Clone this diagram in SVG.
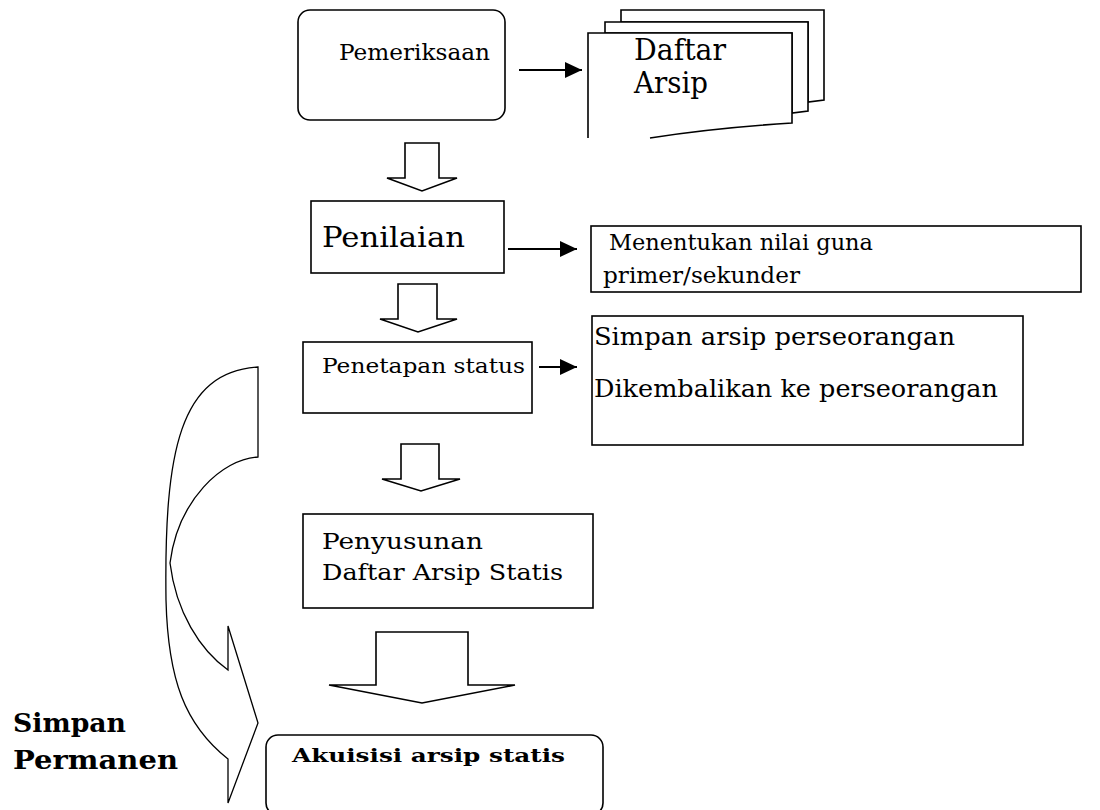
<svg xmlns="http://www.w3.org/2000/svg" width="1100" height="810" viewBox="0 0 1100 810">
<style>
.box{fill:#fff;stroke:#000;stroke-width:1.6}
.doc{fill:#fff;stroke:#000;stroke-width:1.6}
.t{font-family:"DejaVu Serif","Liberation Serif",serif;fill:#000}
.b{font-family:"DejaVu Serif","Liberation Serif",serif;font-weight:bold;fill:#000}
.line{stroke:#000;stroke-width:2;fill:none}
.block{fill:#fff;stroke:#000;stroke-width:1.6;stroke-linejoin:miter}
.curve{fill:#fff;stroke:#000;stroke-width:1.3}
</style>
<defs>
<marker id="ah" markerUnits="userSpaceOnUse" markerWidth="17" markerHeight="18" refX="17" refY="9" orient="auto">
<path d="M0,1 L17,9 L0,17 Z" fill="#000"/>
</marker>
</defs>
<rect width="1100" height="810" fill="#fff"/>

<g id="connectors">
<line class="line" x1="519" y1="70" x2="582" y2="70" marker-end="url(#ah)"/>
<line class="line" x1="508" y1="249" x2="577" y2="249" marker-end="url(#ah)"/>
<line class="line" x1="539" y1="367" x2="577" y2="367" marker-end="url(#ah)"/>
<path class="block" d="M405,143 H439 V178 H457 L422,191 L387,178 H405 Z"/>
<path class="block" d="M398,284 H437 V319 H457 L418,332 L380,319 H398 Z"/>
<path class="block" d="M401,444 H439 V479 H460 L421,491 L382,479 H401 Z"/>
<path class="block" d="M376,632 H468 V685 H515 L422,703 L329,685 H376 Z"/>
<path class="curve" d="M258,367 L258,457 C222,459 178,500 170,563 C176,612 200,650 228,670 L228,626 L258,723 L228,803 L228,759 C185,725 168,680 166,600 C164,450 180,372 258,367 Z"/>
</g>

<g id="pemeriksaan">
<rect class="box" x="298" y="10" width="207" height="110" rx="12"/>
<text class="t" x="339" y="60" font-size="22" textLength="151" lengthAdjust="spacingAndGlyphs">Pemeriksaan</text>
</g>

<g id="daftar-arsip">
<path class="doc" d="M621,10 H824 V100 L808,102 V22 H621 Z"/>
<path class="doc" d="M605,22 H808 V111 L792,113 V33 H605 Z"/>
<path class="doc" d="M588,138 V33 H792 V123 C760,125 700,130 650,138"/>
<text class="t" x="634" y="60" font-size="29" textLength="92" lengthAdjust="spacingAndGlyphs">Daftar</text>
<text class="t" x="634" y="93" font-size="29" textLength="74" lengthAdjust="spacingAndGlyphs">Arsip</text>
</g>

<g id="penilaian">
<rect class="box" x="311" y="201" width="193" height="72"/>
<text class="t" x="322" y="247" font-size="28" textLength="143" lengthAdjust="spacingAndGlyphs">Penilaian</text>
</g>

<g id="menentukan">
<rect class="box" x="591" y="226" width="490" height="66"/>
<text class="t" x="609" y="250" font-size="22" textLength="264" lengthAdjust="spacingAndGlyphs">Menentukan nilai guna</text>
<text class="t" x="603" y="283" font-size="22" textLength="197" lengthAdjust="spacingAndGlyphs">primer/sekunder</text>
</g>

<g id="penetapan">
<rect class="box" x="303" y="342" width="229" height="71"/>
<text class="t" x="322" y="373" font-size="20" textLength="203" lengthAdjust="spacingAndGlyphs">Penetapan status</text>
</g>

<g id="simpan-arsip">
<rect class="box" x="592" y="316" width="431" height="129"/>
<text class="t" x="594" y="345" font-size="24" textLength="361" lengthAdjust="spacingAndGlyphs">Simpan arsip perseorangan</text>
<text class="t" x="594" y="397" font-size="24" textLength="404" lengthAdjust="spacingAndGlyphs">Dikembalikan ke perseorangan</text>
</g>

<g id="penyusunan">
<rect class="box" x="303" y="514" width="290" height="94"/>
<text class="t" x="322" y="549" font-size="23" textLength="161" lengthAdjust="spacingAndGlyphs">Penyusunan</text>
<text class="t" x="322" y="580" font-size="23" textLength="241" lengthAdjust="spacingAndGlyphs">Daftar Arsip Statis</text>
</g>

<g id="akuisisi">
<rect class="box" x="266" y="735" width="337" height="80" rx="12"/>
<text class="b" x="292" y="762" font-size="19" textLength="273" lengthAdjust="spacingAndGlyphs">Akuisisi arsip statis</text>
</g>

<g id="simpan-permanen">
<text class="b" x="13" y="732" font-size="26" textLength="113" lengthAdjust="spacingAndGlyphs">Simpan</text>
<text class="b" x="13" y="769" font-size="26" textLength="165" lengthAdjust="spacingAndGlyphs">Permanen</text>
</g>
</svg>
